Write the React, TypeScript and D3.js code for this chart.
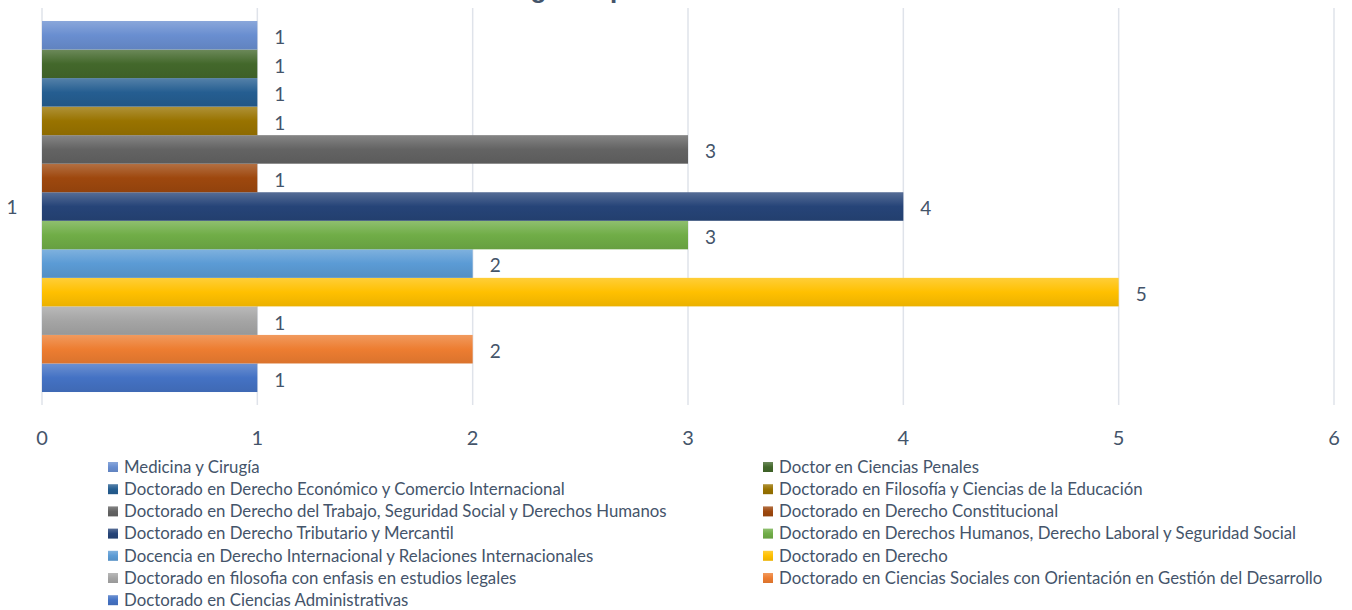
import React from "react";
import * as d3 from "d3";

const categories = ["1"];
const seriesNames = [
  "Doctorado en Ciencias Administrativas",
  "Doctorado en Ciencias Sociales con Orientación en Gestión del Desarrollo",
  "Doctorado en filosofia con enfasis en estudios legales",
  "Doctorado en Derecho",
  "Docencia en Derecho Internacional y Relaciones Internacionales",
  "Doctorado en Derechos Humanos, Derecho Laboral y Seguridad Social",
  "Doctorado en Derecho Tributario y Mercantil",
  "Doctorado en Derecho Constitucional",
  "Doctorado en Derecho del Trabajo, Seguridad Social y Derechos Humanos",
  "Doctorado en Filosofía y Ciencias de la  Educación",
  "Doctorado en Derecho Económico y Comercio Internacional",
  "Doctor en Ciencias Penales",
  "Medicina y Cirugía",
];
const seriesValues = [1, 2, 1, 5, 2, 3, 4, 1, 3, 1, 1, 1, 1];
const seriesColors = [
  "#4472C4", "#ED7D31", "#A5A5A5", "#FFC000", "#5B9BD5", "#70AD47",
  "#264478", "#9E480E", "#636363", "#997300", "#255E91", "#43682B", "#698ED0",
];
const xTicks = [0, 1, 2, 3, 4, 5, 6];
const titleText = "Último grado por área del conocimiento";

const W = 1352;
const H = 610;
const TEXT = "#44546A";
const FONT = "Lato, 'Open Sans', sans-serif";

export default function App() {
  const x = d3.scaleLinear().domain([0, 6]).range([42, 1334]);
  const yCat = d3.scaleBand().domain(categories).range([405, 8]).paddingOuter(0.035).paddingInner(0);
  const idx = seriesNames.map((_, i) => String(i));
  const ySer = d3.scaleBand().domain(idx).range([yCat("1")! + yCat.bandwidth(), yCat("1")!]);

  const lighter = (c: string) => d3.interpolateRgb(c, "#ffffff")(0.22);
  const darker = (c: string) => d3.interpolateRgb(c, "#000000")(0.08);

  const legendOrder = idx.slice().reverse().map(Number);
  const legendX = [108, 763];
  const legendY0 = 467;
  const legendDy = 22.2;

  return (
    <svg width={W} height={H} style={{ position: "absolute", left: 0, top: 0, background: "#fff" }}>
      <defs>
        {seriesColors.map((c, i) => (
          <linearGradient key={i} id={`g${i}`} x1="0" y1="0" x2="0" y2="1">
            <stop offset="0" stopColor={lighter(c)} />
            <stop offset="0.5" stopColor={c} />
            <stop offset="1" stopColor={darker(c)} />
          </linearGradient>
        ))}
      </defs>
      <rect x={0} y={0} width={W} height={H} fill="#fff" />
      <text x={688} y={-2} textAnchor="middle" fontFamily="'Liberation Sans', Arial, sans-serif" fontWeight="bold" fontSize={26} fill={TEXT}>
        {titleText}
      </text>
      {xTicks.map((t) => (
        <line key={t} x1={x(t)} x2={x(t)} y1={8} y2={405} stroke="#DFE3EA" strokeWidth={1.5} />
      ))}
      {seriesValues.map((v, i) => {
        const y0 = ySer(String(i))!;
        const bh = ySer.bandwidth();
        return (
          <g key={i}>
            <rect x={x(0)} y={y0} width={x(v) - x(0)} height={bh} fill={`url(#g${i})`} />
            <text x={x(v) + 17} y={y0 + bh / 2 + 2} dy="0.36em" fontFamily={FONT} fontSize={19} fill={TEXT}>
              {v}
            </text>
          </g>
        );
      })}
      <text x={12} y={yCat("1")! + yCat.bandwidth() / 2 + 1} dy="0.36em" textAnchor="middle" fontFamily={FONT} fontSize={19} fill={TEXT}>
        {categories[0]}
      </text>
      {xTicks.map((t) => (
        <text key={t} x={x(t)} y={438} dy="0.36em" textAnchor="middle" fontFamily={FONT} fontSize={20} fill={TEXT}>
          {t}
        </text>
      ))}
      {legendOrder.map((si, k) => {
        const col = k % 2;
        const row = Math.floor(k / 2);
        const lx = legendX[col];
        const ly = legendY0 + row * legendDy;
        return (
          <g key={si}>
            <rect x={lx} y={ly - 5} width={10} height={10} fill={`url(#g${si})`} />
            <text x={lx + 16} y={ly} dy="0.34em" fontFamily={FONT} fontSize={16.8} fill={TEXT}>
              {seriesNames[si]}
            </text>
          </g>
        );
      })}
    </svg>
  );
}
